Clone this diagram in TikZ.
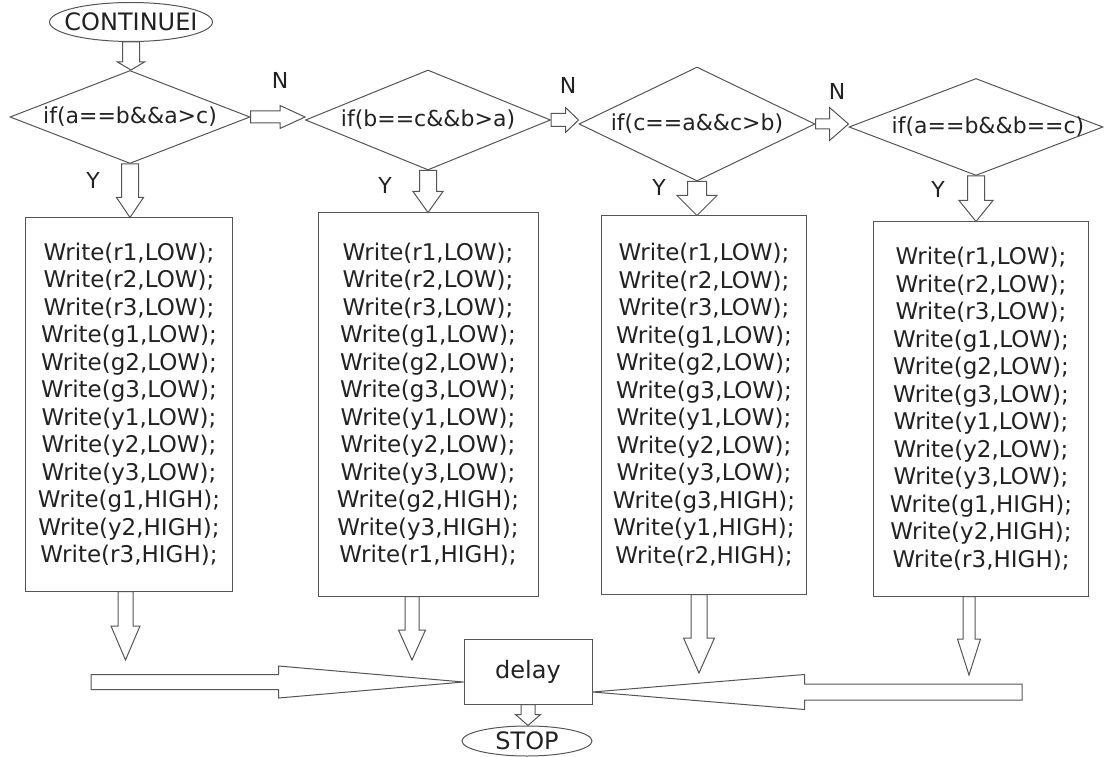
\documentclass[tikz,border=0pt]{standalone}
\usepackage{fontspec}
\setmainfont{DejaVu Sans}
\usetikzlibrary{calc, shapes.geometric}
\definecolor{flowgray}{HTML}{555555}
\definecolor{flowtext}{HTML}{222222}

% block arrow pointing down: from, to, shaft half width, head half width, head length
\newcommand{\downblk}[5]{%
  \draw[blk] let \p1=(#1), \p2=(#2) in
    ({\x1-#3},\y1) -- ({\x1-#3},{\y2+#5}) -- ({\x1-#4},{\y2+#5}) -- (\x1,\y2)
    -- ({\x1+#4},{\y2+#5}) -- ({\x1+#3},{\y2+#5}) -- ({\x1+#3},\y1) -- cycle;}
% block arrow sideways (negative head length points left)
\newcommand{\sideblk}[5]{%
  \draw[blk] let \p1=(#1), \p2=(#2) in
    (\x1,{\y1+#3}) -- ({\x2-(#5)},{\y1+#3}) -- ({\x2-(#5)},{\y1+#4}) -- (\x2,\y1)
    -- ({\x2-(#5)},{\y1-#4}) -- ({\x2-(#5)},{\y1-#3}) -- (\x1,{\y1-#3}) -- cycle;}
\newcommand{\alllow}{Write(r1,LOW);\\Write(r2,LOW);\\Write(r3,LOW);\\Write(g1,LOW);\\Write(g2,LOW);\\Write(g3,LOW);\\Write(y1,LOW);\\Write(y2,LOW);\\Write(y3,LOW);}

\begin{document}
\begin{tikzpicture}[x=1pt, y=-1pt,
    every node/.style={font=\fontsize{22}{27.5}\selectfont, text=flowtext},
    big/.style={font=\fontsize{24}{28}\selectfont},
    term/.style={draw=flowgray, line width=1pt, ellipse, inner sep=0pt},
    cond/.style={draw=flowgray, line width=1pt, diamond, inner sep=0pt},
    stepbox/.style={draw=flowgray, line width=1pt, rectangle, inner sep=2pt, align=center},
    code/.style={stepbox, font=\fontsize{23}{27.5}\selectfont},
    blk/.style={draw=flowgray, line width=1pt, fill=white},
]
    \useasboundingbox (0,0) rectangle (1104,757);

    \node[term, minimum width=163pt, minimum height=39pt, label={[big]center:CONTINUEI}] (cont) at (131,22) {};

    % conditions
    \node[cond, minimum width=240pt, minimum height=93pt, label={center:if(a==b\&\&a>c)}] (d1) at (130,117) {};
    \node[cond, minimum width=245pt, minimum height=100pt, label={center:if(b==c\&\&b>a)}] (d2) at (428,120) {};
    \node[cond, minimum width=236pt, minimum height=114pt, label={center:if(c==a\&\&c>b)}] (d3) at (697,124) {};
    \node[cond, minimum width=254pt, minimum height=97pt, label={[xshift=12pt]center:if(a==b\&\&b==c)}] (d4) at (976,127) {};

    \node (n1) at (280,80) {N};
    \node (n2) at (568,85) {N};
    \node (n3) at (837,91) {N};
    \node (y1) at (93,180) {Y};
    \node (y2) at (385,185) {Y};
    \node (y3) at (659,187) {Y};
    \node (y4) at (938,189) {Y};

    % actions
    \node[code, minimum width=207pt, minimum height=373pt] (b1) at (129,404.5)
        {\alllow\\Write(g1,HIGH);\\Write(y2,HIGH);\\Write(r3,HIGH);};
    \node[code, minimum width=220pt, minimum height=383pt] (b2) at (428,404.5)
        {\alllow\\Write(g2,HIGH);\\Write(y3,HIGH);\\Write(r1,HIGH);};
    \node[code, minimum width=205pt, minimum height=378pt] (b3) at (704,405)
        {\alllow\\Write(g3,HIGH);\\Write(y1,HIGH);\\Write(r2,HIGH);};
    \node[code, minimum width=215pt, minimum height=374pt] (b4) at (981,409)
        {\alllow\\Write(g1,HIGH);\\Write(y2,HIGH);\\Write(r3,HIGH);};

    \node[stepbox, big, minimum width=128pt, minimum height=65pt] (delay) at (528,671.5) {delay};
    \node[term, minimum width=130pt, minimum height=30pt, label={[big]center:STOP}] (stop) at (527,741) {};

    \coordinate (t1) at (125.5,660);
    \coordinate (t2) at (412,660);
    \coordinate (t3) at (699,673);
    \coordinate (t4) at (969,675);
    \coordinate (lt) at (91,682);
    \coordinate (rt) at (1022,692);

    % arrows
    \downblk{cont.south}{d1.north}{8.5}{13.5}{8}
    \downblk{d1.south}{d1.south |- b1.north}{8.5}{13.5}{20}
    \downblk{d2.south}{d2.south |- b2.north}{8.5}{15}{21}
    \downblk{d3.south}{d3.south |- b3.north}{9.5}{20}{20}
    \downblk{d4.south}{d4.south |- b4.north}{8.5}{17}{21}
    \sideblk{d1.east}{d2.west}{6}{11.5}{25}
    \sideblk{d2.east}{d3.west}{6.5}{12.5}{13}
    \sideblk{d3.east}{d4.west}{5}{16.5}{19}

    \downblk{t1 |- b1.south}{t1}{7.5}{14.5}{34}
    \downblk{t2 |- b2.south}{t2}{7}{13.5}{30}
    \downblk{t3 |- b3.south}{t3}{8}{15.5}{35}
    \downblk{t4 |- b4.south}{t4}{6}{11.5}{36}
    \sideblk{lt}{lt -| delay.west}{7.5}{16}{185}
    \sideblk{rt}{rt -| delay.east}{8}{17.5}{-212}
    \downblk{delay.south}{stop.north}{7}{12.5}{11}
\end{tikzpicture}
\end{document}
